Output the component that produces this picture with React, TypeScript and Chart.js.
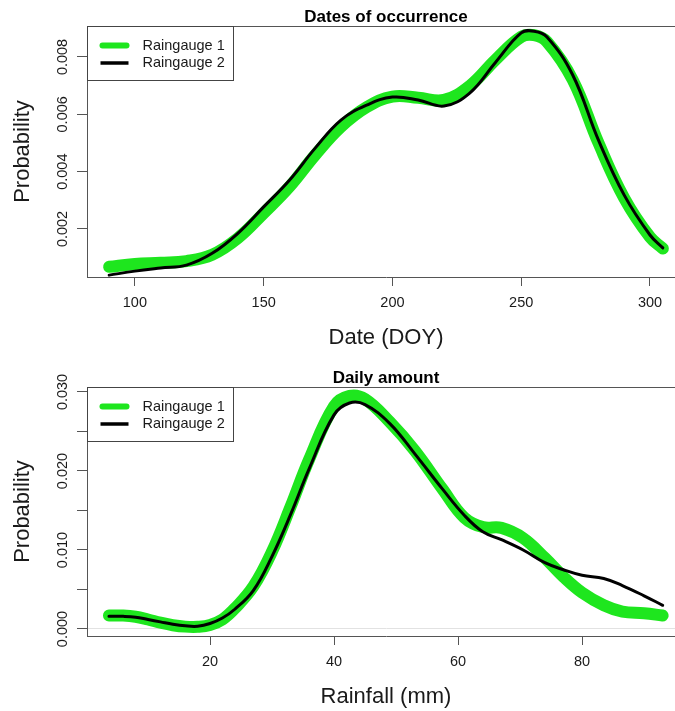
import React, { useEffect, useRef } from 'react';
import { Chart, registerables } from 'chart.js';

Chart.register(...registerables);

const FONT = '"Liberation Sans", Arial, Helvetica, sans-serif';
const GREEN = '#1ee61e';
const AXIS = '#555555';
const TEXT = '#1a1a1a';

const seriesNames = ['Raingauge 1', 'Raingauge 2'];

// Dates of occurrence: kernel density over day of year
const doy = [90, 100, 110, 120, 130, 140, 150, 160, 170, 180, 190, 200, 210, 220, 230, 240, 250, 255, 260, 270, 280, 290, 300, 305];
const doyGauge1 = [0.00068, 0.00078, 0.00082, 0.00088, 0.0011, 0.00168, 0.00255, 0.00347, 0.00458, 0.00556, 0.00625, 0.00662, 0.00658, 0.0065, 0.00699, 0.0079, 0.0087, 0.00876, 0.00853, 0.0072, 0.005, 0.00308, 0.00172, 0.00132];
const doyGauge2 = [0.00039, 0.00053, 0.00064, 0.00074, 0.00115, 0.00185, 0.00277, 0.0037, 0.00482, 0.0058, 0.00632, 0.0066, 0.0065, 0.00629, 0.00674, 0.00781, 0.00884, 0.0089, 0.0087, 0.00737, 0.0051, 0.00318, 0.00179, 0.00134];
const doyTicks = [100, 150, 200, 250, 300];
const doyProbTicks = [0.002, 0.004, 0.006, 0.008];
const doyProbLabels = [0.002, 0.004, 0.006, 0.008];

// Daily amount: kernel density over rainfall depth (mm)
const rain = [3.7, 6, 8, 10, 12, 14, 16, 18, 20, 22, 24, 27, 30, 33, 36, 40, 42.5, 45, 49, 53, 57.5, 61, 64, 67, 70.5, 74, 77, 80, 83.5, 86.5, 90, 93];
const rainGauge1 = [0.0017, 0.0017, 0.00155, 0.0012, 0.0008, 0.00048, 0.0003, 0.00028, 0.0005, 0.0012, 0.0026, 0.0054, 0.0098, 0.0155, 0.0215, 0.0282, 0.0295, 0.0291, 0.0262, 0.0226, 0.0177, 0.0141, 0.0129, 0.0128, 0.0115, 0.009, 0.0066, 0.0046, 0.003, 0.0022, 0.002, 0.0017];
const rainGauge2 = [0.0016, 0.0016, 0.0015, 0.0012, 0.0009, 0.0006, 0.0004, 0.00035, 0.0007, 0.0014, 0.0025, 0.0049, 0.0092, 0.0145, 0.0203, 0.0271, 0.0286, 0.0284, 0.026, 0.0222, 0.0177, 0.0144, 0.0123, 0.0113, 0.01, 0.0084, 0.0075, 0.0068, 0.0064, 0.0055, 0.0042, 0.003];
const rainTicks = [20, 40, 60, 80];
const rainProbTicks = [0, 0.005, 0.01, 0.015, 0.02, 0.025, 0.03];
const rainProbLabels = [0, 0.01, 0.02, 0.03];

type Panel = {
  title: string;
  xTitle: string;
  xs: number[];
  g1: number[];
  g2: number[];
  xMin: number;
  xMax: number;
  yMin: number;
  yMax: number;
  xTicks: number[];
  yTicks: number[];
  yLabels: number[];
  zeroLine: boolean;
  height: number;
  padTop: number;
  xHeight: number;
};

const panels: Panel[] = [
  {
    title: 'Dates of occurrence', xTitle: 'Date (DOY)',
    xs: doy, g1: doyGauge1, g2: doyGauge2,
    xMin: 81.4, xMax: 313.6, yMin: 0.000325, yMax: 0.00908,
    xTicks: doyTicks, yTicks: doyProbTicks, yLabels: doyProbLabels,
    zeroLine: false, height: 355, padTop: 26, xHeight: 78,
  },
  {
    title: 'Daily amount', xTitle: 'Rainfall (mm)',
    xs: rain, g1: rainGauge1, g2: rainGauge2,
    xMin: 0.16, xMax: 96.6, yMin: -0.000886, yMax: 0.03063,
    xTicks: rainTicks, yTicks: rainProbTicks, yLabels: rainProbLabels,
    zeroLine: true, height: 356, padTop: 32, xHeight: 75,
  },
];

function makeDecor(p: Panel) {
  return {
    id: 'decor',
    afterDraw(chart: any) {
      const { ctx, chartArea: a, scales } = chart;
      ctx.save();

      // top edge of the plot frame
      ctx.strokeStyle = AXIS;
      ctx.lineWidth = 1;
      ctx.beginPath();
      ctx.moveTo(Math.round(a.left), Math.round(a.top) + 0.5);
      ctx.lineTo(Math.round(a.right), Math.round(a.top) + 0.5);
      ctx.lineTo(Math.round(a.right) + 0.5, Math.round(a.bottom));
      ctx.stroke();

      // main title
      ctx.fillStyle = '#000';
      ctx.font = `bold 17px ${FONT}`;
      ctx.textAlign = 'center';
      ctx.textBaseline = 'alphabetic';
      ctx.fillText(p.title, (a.left + a.right) / 2, a.top - 4);

      // y tick labels, rotated like the axis title
      ctx.fillStyle = TEXT;
      ctx.font = `14.5px ${FONT}`;
      for (const v of p.yLabels) {
        const y = scales.y.getPixelForValue(v);
        ctx.save();
        ctx.translate(a.left - 20, y);
        ctx.rotate(-Math.PI / 2);
        ctx.textAlign = 'center';
        ctx.textBaseline = 'alphabetic';
        ctx.fillText(v.toFixed(3), 0, 0);
        ctx.restore();
      }

      // axis titles
      ctx.font = `22px ${FONT}`;
      ctx.fillStyle = TEXT;
      ctx.save();
      ctx.translate(29, (a.top + a.bottom) / 2);
      ctx.rotate(-Math.PI / 2);
      ctx.textAlign = 'center';
      ctx.textBaseline = 'alphabetic';
      ctx.fillText('Probability', 0, 0);
      ctx.restore();

      ctx.textAlign = 'center';
      ctx.textBaseline = 'middle';
      ctx.fillText(p.xTitle, (a.left + a.right) / 2, a.bottom + 61);

      // legend box
      const lx = Math.round(a.left) + 0.5;
      const ly = Math.round(a.top) + 0.5;
      const lw = 146;
      const lh = 54;
      ctx.fillStyle = '#fff';
      ctx.fillRect(lx, ly, lw, lh);
      ctx.strokeStyle = '#444';
      ctx.lineWidth = 1;
      ctx.strokeRect(lx, ly, lw, lh);

      const ds = chart.data.datasets;
      const rows = [
        { y: ly + 19, color: ds[0].borderColor, w: 6, cap: 'round' },
        { y: ly + 36.5, color: ds[1].borderColor, w: 3.5, cap: 'butt' },
      ];
      rows.forEach((r, i) => {
        ctx.strokeStyle = r.color;
        ctx.lineWidth = r.w;
        ctx.lineCap = r.cap;
        ctx.beginPath();
        ctx.moveTo(lx + (r.cap === 'round' ? 15 : 13), r.y);
        ctx.lineTo(lx + (r.cap === 'round' ? 39 : 41), r.y);
        ctx.stroke();
        ctx.fillStyle = TEXT;
        ctx.font = `14.5px ${FONT}`;
        ctx.textAlign = 'left';
        ctx.textBaseline = 'middle';
        ctx.fillText(ds[i].label, lx + 55, r.y);
      });

      ctx.restore();
    },
  };
}

function DensityPanel({ p }: { p: Panel }) {
  const ref = useRef<HTMLCanvasElement | null>(null);

  useEffect(() => {
    if (!ref.current) return;
    const chart = new Chart(ref.current, {
      type: 'line',
      data: {
        datasets: [
          {
            label: seriesNames[0],
            data: p.xs.map((x, i) => ({ x, y: p.g1[i] })),
            borderColor: GREEN,
            borderWidth: 12,
            borderCapStyle: 'round',
            borderJoinStyle: 'round',
            pointRadius: 0,
            tension: 0.4,
            order: 1,
          },
          {
            label: seriesNames[1],
            data: p.xs.map((x, i) => ({ x, y: p.g2[i] })),
            borderColor: '#000000',
            borderWidth: 3,
            borderCapStyle: 'round',
            borderJoinStyle: 'round',
            pointRadius: 0,
            tension: 0.4,
            order: 0,
          },
        ],
      },
      options: {
        animation: false,
        responsive: false,
        events: [],
        layout: { padding: { top: p.padTop, right: 15, left: 0, bottom: 0 } },
        plugins: {
          legend: { display: false },
          tooltip: { enabled: false },
          title: { display: false },
        },
        scales: {
          x: {
            type: 'linear',
            position: 'bottom',
            min: p.xMin,
            max: p.xMax,
            afterBuildTicks: (s: any) => { s.ticks = p.xTicks.map((v) => ({ value: v })); },
            afterFit: (s: any) => { s.height = p.xHeight; },
            grid: { drawOnChartArea: false, drawTicks: true, tickLength: 9, tickColor: AXIS, tickWidth: 1 },
            border: { display: true, color: AXIS, width: 1 },
            ticks: {
              font: { family: FONT, size: 14.5 },
              color: TEXT,
              padding: 8,
              maxRotation: 0,
              autoSkip: false,
              callback: (v: any) => String(v),
            },
          },
          y: {
            type: 'linear',
            min: p.yMin,
            max: p.yMax,
            afterBuildTicks: (s: any) => { s.ticks = p.yTicks.map((v) => ({ value: v })); },
            afterFit: (s: any) => { s.width = 87; },
            grid: {
              drawOnChartArea: p.zeroLine,
              drawTicks: true,
              tickLength: 10,
              tickColor: AXIS,
              tickWidth: 1,
              color: (c: any) => (c.tick && c.tick.value === 0 ? '#e2e2e2' : 'rgba(0,0,0,0)'),
            },
            border: { display: true, color: AXIS, width: 1 },
            ticks: { display: false },
          },
        },
      } as any,
      plugins: [makeDecor(p)],
    });
    return () => chart.destroy();
  }, [p]);

  return <canvas ref={ref} width={700} height={p.height} style={{ display: 'block' }} />;
}

export default function App() {
  return (
    <div
      style={{
        position: 'fixed',
        left: 0,
        top: 0,
        width: 675,
        height: 711,
        overflow: 'hidden',
        background: '#fff',
      }}
    >
      {panels.map((p) => (
        <DensityPanel key={p.title} p={p} />
      ))}
    </div>
  );
}
